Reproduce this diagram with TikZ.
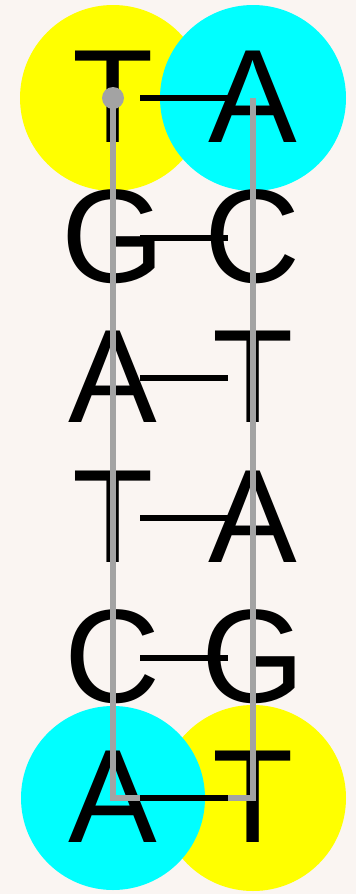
\documentclass[tikz,border=0pt]{standalone}
\usepackage{fontspec}
\setmainfont{Liberation Sans}
\definecolor{dnabg}{HTML}{FAF5F2}
\definecolor{dnayellow}{HTML}{FFFF00}
\definecolor{dnacyan}{HTML}{00FFFF}
\definecolor{dnagray}{HTML}{A3A3A3}

\begin{document}
\begin{tikzpicture}[x=1pt, y=-1pt,
    basechar/.style={font=\fontsize{133}{133}\selectfont, text=black,
      inner sep=0pt, anchor=base, yshift=-44.5pt},
    strand/.style={dnagray, line width=6pt, line join=miter},
    bond/.style={black, line width=5.5pt, shorten <=27pt, shorten >=25pt}]
  % page and background
  \useasboundingbox (0,0) rectangle (356,894);
  \fill[dnabg] (0,0) rectangle (356,894);
  % backbone positions (left strand L, right strand R)
  \coordinate (L1) at (113,98);  \coordinate (R1) at (253,98);
  \coordinate (L2) at (113,238); \coordinate (R2) at (253,238);
  \coordinate (L3) at (113,378); \coordinate (R3) at (253,378);
  \coordinate (L4) at (113,518); \coordinate (R4) at (253,518);
  \coordinate (L5) at (113,658); \coordinate (R5) at (253,658);
  \coordinate (L6) at (113,798); \coordinate (R6) at (253,798);
  % highlighted end bases (yellow first, cyan on top)
  \fill[dnayellow] (L1) circle (93pt);
  \fill[dnayellow] (R6) circle (93pt);
  \fill[dnacyan] (R1) circle (93pt);
  \fill[dnacyan] (L6) circle (92pt);
  % bases
  % row 1: T A
  \node[basechar] (b1) at (L1) {T}; \node[basechar] (c1) at (R1) {A};
  % row 2: G C
  \node[basechar] (b2) at (L2) {G}; \node[basechar] (c2) at (R2) {C};
  % row 3: A T
  \node[basechar] (b3) at (L3) {A}; \node[basechar] (c3) at (R3) {T};
  % row 4: T A
  \node[basechar] (b4) at (L4) {T}; \node[basechar] (c4) at (R4) {A};
  % row 5: C G
  \node[basechar] (b5) at (L5) {C}; \node[basechar] (c5) at (R5) {G};
  % row 6: A T
  \node[basechar] (b6) at (L6) {A}; \node[basechar] (c6) at (R6) {T};
  % sugar-phosphate backbone
  \draw[strand] (L1) -- (L6) -- (R6) -- (R1);
  \fill[dnagray] (L1) circle (11pt);
  % base pairing
  \draw[bond] (L1) -- (R1);
  \draw[bond] (L2) -- (R2);
  \draw[bond] (L3) -- (R3);
  \draw[bond] (L4) -- (R4);
  \draw[bond] (L5) -- (R5);
  \draw[bond] (L6) -- (R6);
\end{tikzpicture}
\end{document}
